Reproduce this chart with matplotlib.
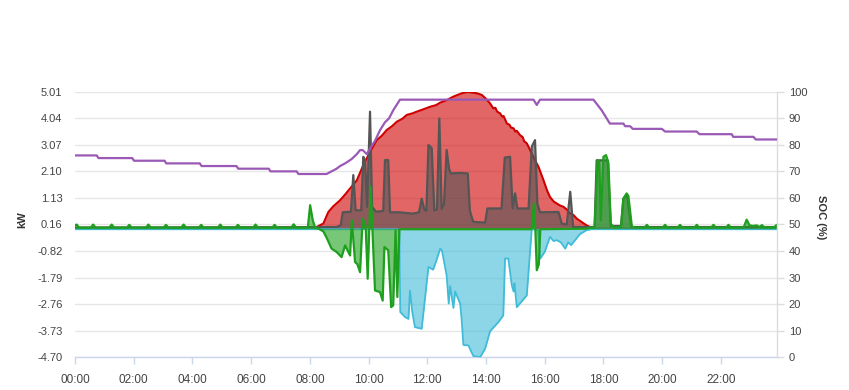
import matplotlib
matplotlib.use('Agg')
import matplotlib.pyplot as plt

plt.rcParams['font.family'] = ['Liberation Sans', 'DejaVu Sans']

# ---------------- data (hours of day, kW / %) ----------------
xtick_hours = [0, 2, 4, 6, 8, 10, 12, 14, 16, 18, 20, 22]
xtick_labels = ['00:00', '02:00', '04:00', '06:00', '08:00', '10:00',
                '12:00', '14:00', '16:00', '18:00', '20:00', '22:00']
kw_ticks = [-4.70, -3.73, -2.76, -1.79, -0.82, 0.16, 1.13, 2.10, 3.07, 4.04, 5.01]
kw_tick_labels = ['-4.70', '-3.73', '-2.76', '-1.79', '-0.82', '0.16',
                  '1.13', '2.10', '3.07', '4.04', '5.01']
soc_ticks = [0, 10, 20, 30, 40, 50, 60, 70, 80, 90, 100]

# Solar production (red)
solar_t = [0.0, 8.10, 8.23, 8.46, 8.63, 8.80, 9.03, 9.20, 9.37, 9.60, 9.82, 10.05,
           10.28, 10.45, 10.62, 10.80, 10.96, 11.15, 11.30, 11.50, 11.64, 11.85,
           12.10, 12.30, 12.44, 12.66, 12.89, 13.05, 13.23, 13.40, 13.57, 13.70,
           13.86, 14.00, 14.14, 14.25, 14.32, 14.38, 14.48, 14.55, 14.60, 14.71,
           14.80, 14.85, 14.94, 15.00, 15.05, 15.16, 15.25, 15.30, 15.39, 15.47,
           15.56, 15.67, 15.79, 15.96, 16.08, 16.18, 16.30, 16.41, 16.52, 16.64,
           16.75, 16.87, 16.98, 17.09, 17.25, 17.43, 17.66, 23.93]
solar_kw = [0.0, 0.0, 0.06, 0.19, 0.61, 0.82, 1.04, 1.25, 1.47, 1.77, 2.32, 2.81,
            3.24, 3.40, 3.61, 3.75, 3.91, 4.02, 4.16, 4.22, 4.28, 4.36,
            4.46, 4.52, 4.61, 4.70, 4.83, 4.90, 4.97, 5.00, 4.97, 4.95,
            4.89, 4.75, 4.58, 4.40, 4.42, 4.28, 4.22, 4.10, 4.12, 3.85,
            3.80, 3.70, 3.67, 3.55, 3.58, 3.42, 3.35, 3.20, 3.12, 2.95,
            2.75, 2.50, 2.26, 1.77, 1.40, 1.16, 1.00, 0.92, 0.85, 0.80,
            0.70, 0.55, 0.50, 0.37, 0.25, 0.12, 0.0, 0.0]

# Household load (grey)
load_t = [0.0, 8.90, 9.05, 9.12, 9.40, 9.48, 9.56, 9.75, 9.82, 9.88, 9.95, 10.05,
          10.12, 10.25, 10.50, 10.56, 10.67, 10.73, 11.05, 11.50, 11.72, 11.81,
          11.90, 11.97, 12.04, 12.15, 12.24, 12.33, 12.41, 12.49, 12.57, 12.66,
          12.74, 12.80, 13.10, 13.38, 13.45, 13.52, 13.57, 13.97, 14.05, 14.53,
          14.64, 14.82, 14.91, 14.99, 15.07, 15.45, 15.56, 15.67, 15.75, 15.84,
          16.47, 16.58, 16.75, 16.87, 16.97, 17.70, 17.77, 18.15, 18.25, 18.60,
          18.68, 18.80, 18.95, 23.93]
load_kw = [0.04, 0.06, 0.12, 0.60, 0.62, 1.96, 0.67, 0.67, 2.63, 2.50, 0.80, 4.28,
           0.80, 0.62, 0.65, 2.51, 2.51, 0.60, 0.60, 0.55, 0.60, 1.10,
           0.70, 0.65, 3.06, 2.95, 0.67, 0.70, 4.03, 0.73, 0.90, 2.88,
           2.20, 2.02, 2.04, 2.02, 0.67, 0.40, 0.25, 0.22, 0.74, 0.74,
           2.60, 2.63, 0.74, 1.29, 0.74, 0.74, 3.00, 3.24, 0.92, 0.60,
           0.61, 0.19, 0.15, 1.35, 0.06, 0.06, 2.50, 2.50, 0.10, 0.10,
           1.10, 1.25, 0.06, 0.06]

# Battery power (cyan)
batt_t = [0.0, 11.00, 11.05, 11.08, 11.24, 11.36, 11.41, 11.49, 11.58, 11.81,
          12.04, 12.20, 12.30, 12.44, 12.50, 12.66, 12.73, 12.78, 12.89, 12.95,
          13.12, 13.17, 13.23, 13.40, 13.57, 13.80, 13.97, 14.14, 14.42, 14.59,
          14.65, 14.76, 14.88, 14.94, 14.97, 15.05, 15.39, 15.50, 15.56, 15.78,
          15.85, 16.00, 16.18, 16.30, 16.41, 16.55, 16.70, 16.80, 16.90, 17.20,
          17.43, 17.60, 23.93]
batt_kw = [-0.02, -0.02, -0.10, -3.05, -3.23, -3.30, -2.26, -3.05, -3.60, -3.66,
           -1.40, -1.50, -1.20, -0.73, -0.80, -1.71, -2.74, -2.10, -2.90, -2.30,
           -2.74, -3.30, -4.25, -4.27, -4.66, -4.70, -4.39, -3.75, -3.42, -3.17,
           -1.09, -1.09, -2.07, -2.30, -2.00, -2.87, -2.44, -0.85, -0.02, -0.05,
           -1.09, -0.85, -0.30, -0.45, -0.42, -0.50, -0.73, -0.50, -0.60, -0.20,
           -0.05, -0.02, -0.02]

# Grid power (green)
grid_t = [0.00, 0.06, 0.14, 0.54, 0.62, 0.70, 1.17, 1.25, 1.33, 1.77, 1.85, 1.93,
          2.42, 2.50, 2.58, 3.02, 3.10, 3.18, 3.62, 3.70, 3.78, 4.22, 4.30, 4.38,
          4.87, 4.95, 5.03, 5.47, 5.55, 5.63, 6.07, 6.15, 6.23, 6.72, 6.80, 6.88,
          7.37, 7.45, 7.53, 7.93, 8.01, 8.10, 8.18, 8.30, 8.46, 8.58, 8.74, 8.91,
          9.08, 9.20, 9.37, 9.43, 9.54, 9.62, 9.71, 9.80, 9.90, 9.97, 10.07, 10.17,
          10.22, 10.39, 10.48, 10.54, 10.67, 10.77, 10.84, 10.92, 10.98, 11.05,
          15.55, 15.63, 15.68, 15.73, 15.80, 15.85, 17.40, 17.60, 17.70, 17.80,
          17.86, 17.91, 18.00, 18.09, 18.17, 18.25, 18.35, 18.60, 18.68, 18.79,
          18.85, 18.97, 19.10, 19.40, 19.48, 19.56, 20.02, 20.10, 20.18, 20.53,
          20.61, 20.69, 21.10, 21.18, 21.26, 21.67, 21.75, 21.83, 22.18, 22.26,
          22.34, 22.78, 22.88, 22.98, 23.10, 23.22, 23.32, 23.40, 23.48, 23.82,
          23.90, 23.93]
grid_kw = [0.12, 0.15, 0.04, 0.04, 0.15, 0.04, 0.04, 0.15, 0.04, 0.04, 0.14, 0.04,
           0.04, 0.15, 0.04, 0.04, 0.14, 0.04, 0.04, 0.15, 0.04, 0.04, 0.14, 0.04,
           0.04, 0.15, 0.04, 0.04, 0.14, 0.04, 0.04, 0.15, 0.04, 0.04, 0.14, 0.04,
           0.04, 0.16, 0.04, 0.04, 0.86, 0.30, 0.04, 0.00, -0.10, -0.35, -0.73, -0.85,
           -1.04, -0.61, -0.98, 0.30, -1.22, -1.30, -1.59, 0.37, 0.10, -1.83, 1.55, -1.00,
           -2.26, -2.32, -2.63, -0.67, -0.79, -2.87, -2.80, -0.06, -2.50, -0.02,
           -0.02, 0.92, 0.00, -1.52, -1.30, -0.02, 0.00, 0.04, 0.05, 2.51,
           2.45, 0.30, 2.63, 2.69, 2.40, 0.19, 0.05, 0.06, 1.10, 1.29,
           1.20, 0.08, 0.04, 0.04, 0.14, 0.04, 0.04, 0.14, 0.04, 0.04,
           0.14, 0.04, 0.04, 0.14, 0.04, 0.04, 0.14, 0.04, 0.04, 0.14,
           0.04, 0.05, 0.33, 0.12, 0.10, 0.12, 0.06, 0.13, 0.05, 0.05,
           0.14, 0.10]

# Battery state of charge (purple, right axis)
soc_t = [0.0, 0.74, 0.80, 1.95, 2.01, 3.05, 3.11, 4.25, 4.31, 5.50, 5.56, 6.60,
         6.66, 7.55, 7.61, 8.57, 8.74, 8.91, 9.03, 9.20, 9.42, 9.60, 9.71, 9.80,
         9.94, 10.05, 10.22, 10.39, 10.56, 10.70, 10.84, 11.07, 15.62, 15.73,
         15.84, 17.66, 17.94, 18.22, 18.68, 18.74, 18.91, 19.00, 19.99, 20.10,
         21.18, 21.27, 22.37, 22.42, 23.11, 23.19, 23.93]
soc_pct = [76, 76, 75, 75, 74, 74, 73, 73, 72, 72, 71, 71,
           70, 70, 69, 69, 70, 71, 72, 73, 74.6, 76.5, 78, 78,
           76.5, 78.6, 81.5, 85.5, 88.5, 90, 93, 97, 97, 95,
           97, 97, 93, 88, 88, 87, 87, 86, 86, 85,
           85, 84, 84, 83, 83, 82, 82]

# ---------------- figure ----------------
W, H = 849, 390
fig = plt.figure(figsize=(W / 100, H / 100), dpi=100)
left, right, top, bottom = 75, 777.5, 91.7, 357.2
ax = fig.add_axes([left / W, 1 - bottom / H, (right - left) / W, (bottom - top) / H])
ax2 = ax.twinx()

ax.set_xlim(0, 23.93)
ax.set_ylim(-4.70, 5.01)
ax2.set_ylim(0, 100)

grid_col = '#e6e6e6'
for yv in kw_ticks:
    ax.axhline(yv, color=grid_col, lw=1, zorder=0)

series = [
    (solar_t, solar_kw, '#d00000', 0.6, 1.5),
    (load_t, load_kw, '#555555', 0.6, 1.6),
    (batt_t, batt_kw, '#40bcd8', 0.6, 1.3),
    (grid_t, grid_kw, '#1ea01e', 0.6, 1.6),
]
z = 2
for t, v, col, a, lw in series:
    ax.fill_between(t, 0, v, color=col, alpha=a, lw=0, zorder=z)
    ax.plot(t, v, color=col, lw=lw, zorder=z + 0.5, solid_joinstyle='round')
    z += 1

ax2.plot(soc_t, soc_pct, color='#9b59b6', lw=1.6, zorder=5)

# axes styling
for s in ['top', 'left', 'right']:
    ax.spines[s].set_visible(False)
ax.spines['bottom'].set_color('#ccd6eb')
ax.spines['bottom'].set_linewidth(1)
for s in ['top', 'left', 'bottom']:
    ax2.spines[s].set_visible(False)
ax2.spines['right'].set_color('#dcdcdc')
ax2.spines['right'].set_linewidth(1)

ax.set_xticks(xtick_hours)
ax.set_xticklabels(xtick_labels)
ax.set_yticks(kw_ticks)
ax.set_yticklabels(kw_tick_labels)
ax2.set_yticks(soc_ticks)
ax2.set_yticklabels([str(s) for s in soc_ticks])

ax.tick_params(axis='x', length=5, width=1, color='#ccd6eb', labelcolor='#444444',
               labelsize=8.5, pad=7)
ax.tick_params(axis='y', length=0, labelsize=8, labelcolor='#444444', pad=9)
ax2.tick_params(axis='y', length=5, width=1, color='#dcdcdc', labelsize=8,
                labelcolor='#444444', pad=3)

ax.set_ylabel('kW', fontsize=8, fontweight='bold', color='#333333')
ax.yaxis.set_label_coords((27 - left) / (right - left), 1 - (220 - top) / (bottom - top))
ax2.set_ylabel('SOC (%)', fontsize=8, fontweight='bold', color='#333333', rotation=270,
               va='center')
ax2.yaxis.set_label_coords((821 - left) / (right - left), 1 - (217 - top) / (bottom - top))

fig.savefig('out.png', dpi=100)
